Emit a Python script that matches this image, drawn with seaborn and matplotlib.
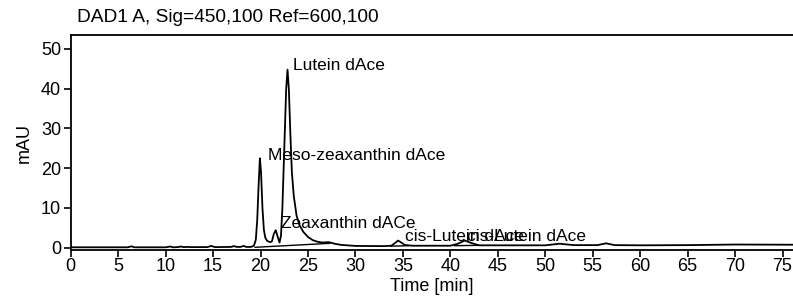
import pandas as pd
import numpy as np
import matplotlib
matplotlib.use("Agg")
import matplotlib.pyplot as plt
import seaborn as sns

# Chromatogram trace (time in min, signal in mAU)
time_min = [0.0, 6.0, 6.4, 6.7, 10.0, 10.5, 10.8, 11.3, 11.6, 11.9, 12.3, 12.6,
            14.4, 14.8, 15.2, 16.9, 17.2, 17.5, 17.9, 18.2, 18.5, 19.0, 19.3,
            19.5, 19.65, 19.8, 19.93, 20.05, 20.2, 20.35, 20.5, 20.7, 21.0, 21.2,
            21.4, 21.6, 21.8, 22.0, 22.15, 22.3, 22.5, 22.7, 22.84, 22.98, 23.15,
            23.3, 23.5, 23.8, 24.1, 24.5, 25.0, 25.5, 26.0, 26.5, 27.2, 27.8,
            28.5, 30.0, 33.0, 33.8, 34.5, 35.2, 36.0, 40.0, 40.8, 41.5, 42.2,
            43.0, 50.0, 51.5, 53.0, 55.5, 56.4, 57.3, 60.0, 65.0, 70.0, 76.1]
signal_mau = [0.1, 0.1, 0.35, 0.1, 0.1, 0.3, 0.1, 0.15, 0.3, 0.15, 0.2, 0.15,
              0.15, 0.45, 0.15, 0.2, 0.4, 0.2, 0.2, 0.45, 0.2, 0.2, 0.5,
              2.0, 7.0, 16.0, 22.5, 19.0, 10.0, 4.5, 2.5, 1.7, 1.4, 1.6,
              3.5, 4.4, 2.8, 1.3, 3.0, 10.0, 25.0, 40.0, 44.8, 40.0, 28.0,
              19.0, 13.0, 8.0, 5.7, 4.0, 2.7, 1.9, 1.5, 1.3, 1.4, 1.0,
              0.7, 0.45, 0.4, 0.5, 1.8, 0.7, 0.5, 0.5, 1.0, 1.8, 1.2,
              0.6, 0.6, 1.0, 0.65, 0.65, 1.1, 0.65, 0.6, 0.65, 0.8, 0.75]

# Integration baselines drawn under the peaks
base_seg = [1, 1, 2, 2, 3, 3]
base_time = [19.4, 27.3, 33.7, 35.6, 40.4, 43.0]
base_mau = [0.1, 1.1, 0.4, 0.5, 0.5, 0.6]

# Peak names and where they are written
peak_names = ["Lutein dAce", "Meso-zeaxanthin dAce", "Zeaxanthin dACe",
              "cis-Lutein dAce", "cis-Lutein dAce"]
label_time = [23.4, 20.8, 22.2, 35.2, 41.8]
label_mau = [45.8, 23.3, 6.1, 2.8, 2.8]

trace_df = pd.DataFrame({"time": time_min, "mAU": signal_mau})
base_df = pd.DataFrame({"seg": base_seg, "time": base_time, "mAU": base_mau})

sns.set_style("ticks")
plt.rcParams["font.family"] = ["Liberation Sans", "DejaVu Sans"]
plt.rcParams["text.color"] = "black"
plt.rcParams["axes.labelcolor"] = "black"

fig = plt.figure(figsize=(7.93, 3.04), dpi=100)
ax = fig.add_axes([0.0892, 0.1776, 0.9108, 0.707])

sns.lineplot(data=trace_df, x="time", y="mAU", ax=ax, color="black",
             linewidth=1.3, estimator=None)
sns.lineplot(data=base_df, x="time", y="mAU", units="seg", ax=ax,
             color="black", linewidth=1.0, estimator=None)

# the two cis labels overlap in the original too
for name, t, v in zip(peak_names, label_time, label_mau):
    ax.text(t, v, name, fontsize=12.5, va="center", ha="left", color="black")

ax.set_xlim(0, 76.1)
ax.set_ylim(-0.58, 53.5)
ax.set_xticks(np.arange(0, 80, 5))
ax.set_yticks(np.arange(0, 60, 10))
ax.tick_params(axis="both", labelsize=13, length=5, width=1.2, direction="out",
               colors="black")
ax.tick_params(axis="x", pad=1)
ax.tick_params(axis="y", pad=2)
for side in ["left", "bottom", "top"]:
    ax.spines[side].set_linewidth(1.3)
    ax.spines[side].set_color("black")
ax.spines["right"].set_visible(False)

ax.set_xlabel("Time [min]", fontsize=13, labelpad=2)
ax.set_ylabel("mAU", fontsize=13, labelpad=6)
fig.text(77 / 793, 1 - 17 / 304, "DAD1 A, Sig=450,100 Ref=600,100",
         fontsize=13.8, ha="left", va="center", color="black")

fig.savefig("out.png", dpi=100)
